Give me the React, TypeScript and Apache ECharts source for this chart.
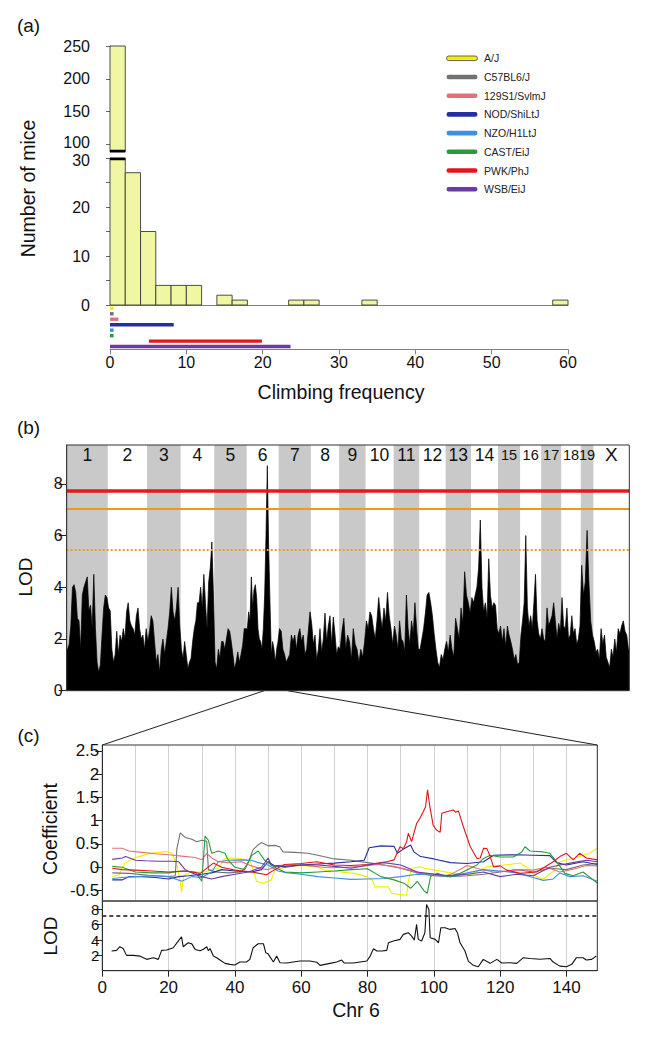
import React, { useEffect, useRef } from 'react';
import * as echarts from 'echarts';

const FONT = '"Liberation Sans", Arial, Helvetica, sans-serif';

// ---------- (a) histogram of climbing frequency ----------
const histBinStarts = [0, 2, 4, 6, 8, 10, 14, 16, 23.4, 25.4, 33, 58];
const histCounts = [250, 27, 15, 4, 4, 4, 2, 1, 1, 1, 1, 1];
const histBinWidth = 2;
const histUpperTicks = [100, 150, 200, 250];

const strains = ['A/J', 'C57BL6/J', '129S1/SvlmJ', 'NOD/ShiLtJ', 'NZO/H1LtJ', 'CAST/EiJ', 'PWK/PhJ', 'WSB/EiJ'];
const strainColors = ['#f0f000', '#727272', '#e2707a', '#23309e', '#3f8fde', '#2a9a3a', '#e3141a', '#6b3aa3'];
const strainFreqMin = [0, 0, 0, 0, 0, 0, 5.1, 0];
const strainFreqMax = [0, 0, 1.1, 8.35, 0, 0, 19.9, 23.65];

// ---------- (b) genome scan ----------
const chrNames = ['1', '2', '3', '4', '5', '6', '7', '8', '9', '10', '11', '12', '13', '14', '15', '16', '17', '18', '19', 'X'];
const chrLengths = [199, 190, 163, 163, 157, 155, 156, 137, 128, 136, 124, 128, 123, 131, 107, 102, 97, 95, 61, 174];
const lodChr1 = [1.6, 1.8, 2.5, 4.0, 4.1, 3.8, 2.8, 2.7, 1.6, 3.7, 4.0, 4.2, 4.4, 3.1, 3.3, 2.4, 4.5, 2.4, 1.1, 0.7, 1.0, 2.15, 3.2, 3.7, 3.6];
const lodChr2 = [3.2, 3.1, 1.6, 1.1, 1.4, 2.3, 1.4, 2.15, 1.9, 2.4, 2.0, 3.05, 3.4, 2.7, 2.5, 2.4, 2.15, 2.9, 3.2, 2.4, 2.0, 2.15, 1.6, 2.4];
const lodChr3 = [1.9, 2.3, 2.9, 2.7, 1.9, 1.1, 1.4, 0.7, 1.6, 2.0, 1.4, 1.9, 2.4, 3.05, 4.0, 3.05, 2.7, 3.2, 4.0, 2.5];
const lodChr4 = [1.6, 1.25, 1.9, 1.4, 0.85, 1.1, 1.25, 1.9, 2.4, 2.7, 3.4, 3.4, 4.0, 3.2, 4.5, 3.4, 2.4, 4.2, 4.75, 5.75, 3.7];
const lodChr5 = [1.1, 0.85, 1.6, 1.25, 1.9, 1.9, 1.6, 2.0, 2.4, 2.3, 1.9, 1.4, 0.85, 1.1, 1.5, 1.1, 1.4, 1.75, 2.4, 2.4];
const lodChr6 = [2.4, 3.05, 2.7, 4.4, 3.2, 3.9, 4.1, 3.6, 2.4, 2.0, 1.9, 1.6, 2.4, 3.7, 6.0, 8.7, 5.6, 3.4, 1.4, 1.9, 1.6, 1.1, 1.6, 1.9];
const lodChr7 = [2.4, 2.3, 1.6, 1.4, 1.1, 1.25, 1.4, 2.15, 1.9, 2.15, 1.6, 2.15, 2.4, 1.9, 2.15, 1.4, 1.6, 2.3, 3.05];
const lodChr8 = [2.6, 1.8, 2.15, 1.2, 1.6, 2.4, 1.5, 2.0, 3.0, 1.9, 2.5, 2.9, 1.8, 2.85, 2.2, 1.4, 1.7];
const lodChr9 = [1.6, 2.3, 2.8, 1.6, 2.15, 1.9, 1.2, 2.4, 1.8, 1.6, 1.1, 1.6, 1.3, 1.9];
const lodChr10 = [2.7, 2.4, 3.05, 2.9, 2.4, 2.0, 2.7, 3.6, 2.9, 2.4, 3.2, 2.7, 3.8, 2.9, 2.4, 1.8];
const lodChr11 = [2.5, 2.15, 1.6, 2.7, 2.0, 1.9, 1.5, 3.7, 2.4, 1.8, 2.7, 2.2, 3.4, 2.4, 1.6];
const lodChr12 = [1.6, 2.0, 2.4, 3.0, 3.7, 3.8, 3.4, 2.9, 2.2, 1.6, 1.1, 0.9, 1.4, 1.2, 1.6];
const lodChr13 = [1.9, 1.5, 2.15, 1.6, 1.3, 2.8, 2.4, 2.0, 3.2, 2.6, 4.6, 3.7, 3.4, 3.0];
const lodChr14 = [3.6, 3.4, 3.7, 4.0, 4.75, 6.6, 4.0, 3.05, 3.4, 2.8, 5.1, 3.7, 3.2, 3.4, 3.3, 2.4];
const lodChr15 = [2.2, 2.5, 1.9, 2.4, 1.7, 2.5, 2.15, 1.9, 1.6, 1.2, 1.4, 1.0, 1.1];
const lodChr16 = [2.15, 2.7, 3.4, 6.0, 3.2, 2.5, 2.9, 2.4, 3.4, 4.5, 2.7, 2.2, 2.0];
const lodChr17 = [2.4, 2.0, 1.9, 3.2, 2.5, 2.7, 2.9, 3.4, 2.7, 2.0, 2.6, 2.3];
const lodChr18 = [3.6, 2.5, 2.4, 3.2, 2.0, 2.15, 2.9, 2.2, 2.4, 1.8, 2.0, 2.5];
const lodChr19 = [4.85, 3.7, 4.2, 6.2, 4.2, 2.7, 2.15];
const lodChrX = [1.9, 1.5, 1.6, 1.2, 2.4, 1.8, 2.15, 1.3, 1.1, 0.9, 1.6, 1.3, 2.0, 1.5, 2.4, 2.2, 2.5, 2.7, 2.3, 2.15, 1.6];
const genomeThresholds = [7.73, 7.03, 5.45];
const genomeLodTicks = [0, 2, 4, 6, 8];

// ---------- (c) chromosome 6 ----------
const coefAJ = [[3, -0.2], [5, -0.16], [6.8, 0.09], [9.3, 0.19], [12, 0.25], [14.4, 0.3], [17, 0.32], [19.4, 0.34], [21, 0.3], [22.5, 0.05], [23.5, -0.3], [23.9, -0.54], [24.5, -0.2], [26, -0.12], [28, -0.1], [31, -0.1], [33, -0.05], [35, -0.02], [37, 0.19], [40, 0.2], [42, 0.18], [44.5, 0.14], [45.5, -0.05], [46.5, -0.3], [48.5, -0.34], [51, -0.27], [52, -0.06], [55.6, 0.01], [60, 0.04], [65, 0.0], [67, -0.06], [70.7, -0.09], [75.7, -0.13], [79.8, -0.2], [81.3, -0.27], [82.3, -0.42], [86.3, -0.42], [87.3, -0.56], [91.8, -0.6], [92.3, -0.3], [93.3, -0.02], [95.8, 0.01], [97.3, -0.02], [100.4, -0.06], [106, -0.13], [111, -0.16], [116, 0.01], [121, 0.05], [126, 0.09], [128, 0.0], [131, -0.2], [133, -0.25], [136, -0.09], [138, 0.12], [144, 0.23], [147, 0.3], [149.3, 0.41]];
const coefC57 = [[3, -0.12], [8, -0.13], [14, -0.17], [20, -0.2], [22, -0.18], [22.5, 0.4], [23.5, 0.74], [25, 0.64], [27, 0.6], [28.5, 0.55], [30, 0.58], [31.5, 0.56], [32, -0.05], [34, -0.1], [38, -0.12], [42, -0.1], [44, 0.1], [45.5, 0.38], [47, 0.48], [48, 0.53], [50, 0.46], [52, 0.47], [53.5, 0.44], [54.5, 0.33], [58, 0.32], [62, 0.3], [65, 0.26], [70, 0.18], [75, 0.15], [80, 0.1], [85, 0.05], [90, -0.02], [95, -0.12], [100, -0.18], [105, -0.2], [110, -0.18], [115, -0.15], [120, -0.1], [125, -0.05], [130, -0.1], [135, -0.02], [140, -0.05], [145, 0.05], [149.3, 0.08]];
const coef129 = [[3, 0.41], [6, 0.41], [8, 0.35], [12, 0.32], [16, 0.29], [20, 0.27], [24, 0.24], [28, 0.21], [30, 0.16], [31.5, 0.3], [33, 0.2], [35, 0.12], [38, 0.1], [42, 0.12], [45, 0.03], [48, -0.03], [50, -0.05], [53, 0.04], [58, 0.06], [63, 0.03], [68, -0.01], [73, 0.0], [78, 0.02], [83, 0.06], [88, 0.02], [92, -0.05], [96, -0.12], [100, -0.14], [103, -0.2], [106, -0.12], [110, 0.04], [114, -0.04], [118, -0.1], [122, -0.08], [126, -0.05], [130, -0.06], [134, 0.0], [138, -0.1], [142, -0.04], [146, 0.04], [149.3, 0.03]];
const coefNOD = [[3, -0.27], [6, -0.27], [8, -0.2], [12, -0.2], [16, -0.22], [20, -0.25], [23, -0.2], [26, -0.18], [30, -0.15], [33, -0.12], [36, -0.05], [40, -0.08], [45, -0.1], [48, -0.05], [50, 0.12], [52, 0.03], [55, 0.02], [60, 0.05], [65, 0.07], [70, 0.09], [75, 0.12], [79, 0.15], [80.5, 0.42], [84, 0.46], [88, 0.45], [89, 0.3], [91, 0.4], [93, 0.48], [94, 0.33], [96, 0.23], [100, 0.18], [105, 0.1], [110, 0.08], [115, 0.12], [118, 0.26], [125, 0.27], [130, 0.26], [135, 0.25], [137, 0.1], [140, 0.05], [145, 0.12], [149.3, 0.06]];
const coefNZO = [[3, -0.24], [6, -0.22], [10, -0.2], [15, -0.18], [20, -0.2], [24, -0.3], [27, -0.2], [30, -0.22], [33, -0.1], [35, 0.12], [38, 0.15], [42, 0.16], [45, 0.15], [47, 0.1], [50, 0.05], [53, -0.08], [56, -0.12], [60, -0.15], [65, -0.2], [70, -0.23], [75, -0.26], [80, -0.25], [85, -0.24], [90, -0.2], [95, -0.15], [100, -0.17], [105, -0.2], [110, -0.12], [115, -0.05], [120, -0.08], [125, -0.12], [130, -0.22], [133, -0.28], [136, -0.25], [138, -0.12], [141, -0.2], [145, -0.18], [149.3, -0.3]];
const coefCAST = [[3, 0.02], [6, 0.0], [10, -0.1], [15, -0.12], [20, -0.12], [24, -0.08], [28, -0.1], [30, -0.3], [31, 0.67], [32, 0.58], [33, 0.3], [35, 0.35], [37, 0.3], [38, 0.15], [40, 0.0], [43, -0.05], [45, 0.25], [47, 0.35], [49, 0.15], [52, 0.0], [55, -0.1], [60, -0.12], [65, -0.1], [70, -0.08], [75, -0.05], [80, -0.03], [84, -0.2], [88, -0.27], [91, -0.34], [93, -0.45], [95, -0.3], [97, -0.5], [98, -0.56], [99, -0.2], [101, -0.13], [104, -0.2], [108, -0.13], [111, -0.02], [113, 0.05], [115, 0.19], [117, 0.26], [120, 0.22], [124, 0.22], [126.5, 0.33], [127.5, 0.44], [129, 0.35], [133, 0.33], [135, 0.3], [137.5, 0.08], [139.5, -0.13], [142, -0.18], [145, -0.1], [149.3, -0.34]];
const coefPWK = [[3, -0.02], [6, -0.05], [10, -0.06], [15, -0.08], [20, -0.1], [25, -0.08], [29.5, -0.13], [33.5, 0.09], [36, 0.0], [40, -0.06], [45, -0.1], [49.5, -0.16], [52, -0.05], [55, 0.06], [60, 0.08], [64.7, 0.12], [70, 0.05], [75, 0.04], [80, 0.06], [85.8, 0.12], [88, 0.16], [89.8, 0.44], [90.8, 0.4], [91.8, 0.55], [92.3, 0.73], [93.3, 0.55], [94.8, 0.94], [95.8, 1.05], [96.8, 1.19], [97.5, 1.3], [98.1, 1.66], [98.8, 1.3], [99.8, 0.9], [100.8, 0.8], [101.9, 0.75], [102.4, 1.16], [103.9, 1.19], [105.9, 1.23], [106.6, 1.18], [107.4, 1.21], [108.9, 0.87], [111, 0.44], [113, 0.19], [114, 0.2], [115, 0.41], [116, 0.4], [117, 0.23], [118, 0.01], [120, 0.03], [122, -0.06], [126, -0.13], [131, -0.1], [136, 0.12], [138, 0.23], [140, 0.3], [142, 0.16], [144, 0.3], [146, 0.2], [149.3, 0.16]];
const coefWSB = [[3, 0.17], [6, 0.2], [7, 0.23], [10, 0.15], [13, 0.14], [17, 0.13], [21, 0.13], [23, 0.12], [25, -0.05], [28, -0.15], [30, -0.2], [33, -0.25], [36, -0.2], [40, -0.15], [44, -0.1], [48, 0.0], [50, 0.2], [51, 0.05], [55, 0.0], [60, 0.05], [65, 0.05], [70, 0.02], [75, -0.02], [80, 0.05], [85, 0.1], [90, 0.05], [95, -0.1], [100, -0.15], [105, -0.18], [110, -0.15], [115, -0.1], [120, -0.2], [125, -0.15], [130, -0.18], [135, 0.0], [138, 0.05], [142, 0.1], [146, 0.15], [149.3, 0.12]];
const chr6Lod = [[2.8, 2.57], [4.3, 2.65], [5.3, 3.13], [6.3, 2.9], [7.3, 2.0], [9.4, 2.0], [11.4, 1.9], [13.4, 1.48], [15.4, 1.7], [16.9, 1.48], [17.9, 2.65], [19.4, 2.7], [21.4, 3.0], [22.9, 3.87], [23.9, 4.43], [24.4, 3.13], [25.9, 3.65], [27, 3.5], [28, 2.78], [29.5, 2.6], [30.5, 2.8], [31.5, 3.13], [32, 2.6], [32.5, 2.9], [33.5, 1.91], [34.5, 1.7], [35.5, 1.39], [37, 0.96], [38.5, 0.83], [40, 0.74], [41.5, 1.13], [43.5, 1.13], [44.5, 1.48], [45.5, 3.0], [47, 3.52], [48.6, 3.52], [49.3, 2.35], [50, 2.2], [51.6, 1.13], [52.6, 1.91], [53.6, 1.04], [55.6, 1.0], [57.6, 1.13], [59.6, 1.26], [62.6, 1.26], [64.7, 1.1], [65.7, 0.7], [67.2, 0.83], [68.7, 0.96], [70.7, 1.13], [72.2, 1.39], [73, 1.0], [75.7, 1.0], [79.8, 1.26], [80.8, 1.91], [81.8, 2.87], [82.8, 2.57], [84.3, 2.57], [85.8, 2.65], [86.3, 3.65], [87.8, 3.87], [89.8, 4.09], [90.8, 4.74], [92.3, 4.96], [93.3, 4.52], [94.1, 4.0], [94.8, 6.04], [95.3, 4.09], [96.3, 3.87], [97.3, 4.96], [97.8, 8.65], [98.5, 8.0], [98.9, 4.3], [100.4, 4.09], [101.4, 3.65], [102.1, 5.6], [103.4, 5.6], [104.9, 5.39], [106.4, 5.5], [107.1, 4.96], [107.9, 3.65], [109.4, 2.57], [110.4, 1.26], [111.9, 0.7], [113.4, 0.52], [114.9, 1.48], [116, 1.2], [117, 0.96], [119, 1.48], [120.5, 1.0], [123, 1.04], [125, 0.96], [127, 1.7], [129, 1.6], [132, 1.5], [135, 1.6], [136, 1.13], [138, 0.6], [140, 0.52], [141.6, 0.83], [143, 1.7], [145, 1.7], [146, 1.39], [147.6, 1.48], [149, 1.91]];
const chr6Threshold = 7.2;
const coefTicks = [-0.5, 0, 0.5, 1, 1.5, 2, 2.5];
const chr6PosTicks = [0, 20, 40, 60, 80, 100, 120, 140];
const chr6LodTicks = [2, 4, 6, 8];

const coefSeries = [coefAJ, coefC57, coef129, coefNOD, coefNZO, coefCAST, coefPWK, coefWSB];
const lodByChr = [lodChr1, lodChr2, lodChr3, lodChr4, lodChr5, lodChr6, lodChr7, lodChr8, lodChr9, lodChr10, lodChr11, lodChr12, lodChr13, lodChr14, lodChr15, lodChr16, lodChr17, lodChr18, lodChr19, lodChrX];

function buildOption() {
  const chrStarts: number[] = [];
  let acc = 0;
  chrLengths.forEach((l) => { chrStarts.push(acc); acc += l; });
  const genomeTotal = acc;
  const genomePts: number[][] = [];
  lodByChr.forEach((vals, c) => {
    vals.forEach((v, i) => genomePts.push([chrStarts[c] + ((i + 0.5) / vals.length) * chrLengths[c], v]));
  });
  genomePts.unshift([0, genomePts[0][1]]);
  genomePts.push([genomeTotal, genomePts[genomePts.length - 1][1]]);

  const histData = histBinStarts.map((s, i) => [s, s + histBinWidth, histCounts[i]]);
  const histRender = (params: any, api: any) => {
    const x0 = api.value(0), x1 = api.value(1), c = api.value(2);
    const cs = params.coordSys;
    const p0 = api.coord([x0, c]);
    const p1 = api.coord([x1, 0]);
    if (p0[1] >= cs.y + cs.height) return null;
    const r = echarts.graphic.clipRectByRect(
      { x: p0[0], y: p0[1], width: p1[0] - p0[0], height: p1[1] - p0[1] },
      { x: cs.x, y: cs.y, width: cs.width, height: cs.height }
    );
    if (!r) return null;
    const children: any[] = [{ type: 'rect', shape: r, style: { fill: '#f1f6a2', stroke: '#3a3a3a', lineWidth: 0.9 } }];
    if (p0[1] < cs.y - 0.5) {
      children.push({ type: 'line', shape: { x1: r.x, y1: cs.y + 1, x2: r.x + r.width, y2: cs.y + 1 }, style: { stroke: '#000', lineWidth: 2.5 } });
    }
    if (p1[1] > cs.y + cs.height + 0.5) {
      children.push({ type: 'line', shape: { x1: r.x, y1: cs.y + cs.height - 1, x2: r.x + r.width, y2: cs.y + cs.height - 1 }, style: { stroke: '#000', lineWidth: 2.5 } });
    }
    return { type: 'group', children };
  };

  const strainData = strains.map((s, i) => [strainFreqMin[i], strainFreqMax[i], i]);
  const strainRender = (params: any, api: any) => {
    const i = api.value(2);
    const p0 = api.coord([api.value(0), i]);
    const p1 = api.coord([api.value(1), i]);
    return { type: 'rect', shape: { x: p0[0], y: p0[1] - 1.7, width: Math.max(p1[0] - p0[0], 3.6), height: 3.4 }, style: { fill: strainColors[i] } };
  };

  const bandData = chrLengths.map((l, i) => [chrStarts[i], chrStarts[i] + l, i]).filter((d) => d[2] % 2 === 0);
  const bandRender = (params: any, api: any) => {
    const p0 = api.coord([api.value(0), 9.5]);
    const p1 = api.coord([api.value(1), 0]);
    return { type: 'rect', shape: { x: p0[0], y: p0[1], width: p1[0] - p0[0], height: p1[1] - p0[1] }, style: { fill: '#c9c9c9' } };
  };
  const labelData = chrLengths.map((l, i) => [chrStarts[i] + l / 2, i]);
  const labelRender = (params: any, api: any) => {
    const i = api.value(1);
    const p = api.coord([api.value(0), 9.12]);
    const name = chrNames[i];
    const fs = name === 'X' ? 19 : i >= 14 ? 14.5 : 17.5;
    return { type: 'text', x: p[0], y: p[1], style: { text: name, fontSize: fs, fontFamily: FONT, fill: '#111', align: 'center', verticalAlign: 'middle' } };
  };

  const tickLabel = { color: '#111', fontFamily: FONT, hideOverlap: false };
  const axisLn = (c: string) => ({ show: true, lineStyle: { color: c, width: 1 } });
  const frame = { show: true, borderColor: '#333', borderWidth: 1, backgroundColor: 'transparent', z: 10 };

  const graphics: any[] = [];
  const addText = (text: string, x: number, y: number, fs: number, rot = 0) =>
    graphics.push({ type: 'text', x, y, rotation: rot, style: { text, fontSize: fs, fontFamily: FONT, fill: '#111', align: 'center', verticalAlign: 'middle' } });
  addText('(a)', 28.5, 25.5, 19);
  addText('(b)', 28.5, 427.5, 19);
  addText('(c)', 28.5, 735, 19);
  addText('Number of mice', 27.5, 188.5, 19.5, Math.PI / 2);
  addText('Climbing frequency', 341, 392, 19.5);
  addText('LOD', 25.5, 577, 19, Math.PI / 2);
  addText('Coefficient', 49.5, 829, 19.5, Math.PI / 2);
  addText('LOD', 50.5, 936, 19, Math.PI / 2);
  addText('Chr 6', 356, 1010, 19.5);
  strains.forEach((s, i) => {
    const cy = 58.3 + i * 18.7;
    graphics.push({ type: 'rect', shape: { x: 446.5, y: cy - 2.3, width: 31, height: 4.6, r: 2.3 }, style: { fill: strainColors[i], stroke: i === 0 ? '#555' : null, lineWidth: i === 0 ? 0.9 : 0 } });
    graphics.push({ type: 'text', x: 484, y: cy, style: { text: s, fontSize: 10.5, fontFamily: FONT, fill: '#222', align: 'left', verticalAlign: 'middle' } });
  });
  graphics.push({ type: 'line', shape: { x1: 264.3, y1: 690.7, x2: 102.3, y2: 745 }, style: { stroke: '#222', lineWidth: 1 } });
  graphics.push({ type: 'line', shape: { x1: 287.5, y1: 690.7, x2: 597.3, y2: 745 }, style: { stroke: '#222', lineWidth: 1 } });

  const histRich = {
    up: { fontSize: 16, fontFamily: FONT, color: '#111', padding: [0, 0, 4, 0] },
    dn: { fontSize: 16, fontFamily: FONT, color: '#111', padding: [4, 0, 0, 0] },
  };

  return {
    animation: false,
    textStyle: { fontFamily: FONT },
    grid: [
      { left: 110, top: 46, width: 458, height: 106, outerBoundsMode: 'none' },
      { left: 110, top: 158, width: 458, height: 147, outerBoundsMode: 'none' },
      { left: 110, top: 305.6, width: 458, height: 43.7, outerBoundsMode: 'none' },
      { left: 66.7, top: 445, width: 562.6, height: 245.7, outerBoundsMode: 'none', ...frame },
      { left: 102.3, top: 745, width: 495, height: 156, outerBoundsMode: 'none', ...frame },
      { left: 102.3, top: 901, width: 495, height: 69.7, outerBoundsMode: 'none', ...frame },
    ],
    xAxis: [
      { gridIndex: 0, type: 'value', min: 0, max: 60, show: false },
      { gridIndex: 1, type: 'value', min: 0, max: 60, axisLine: axisLn('#808080'), axisTick: { show: false }, axisLabel: { show: false }, splitLine: { show: false } },
      { gridIndex: 2, type: 'value', min: 0, max: 60, interval: 10, axisLine: axisLn('#808080'), axisTick: { show: true, length: 5, lineStyle: { color: '#808080' } }, axisLabel: { ...tickLabel, fontSize: 16, margin: 5 }, splitLine: { show: false } },
      { gridIndex: 3, type: 'value', min: 0, max: genomeTotal, show: false },
      { gridIndex: 4, type: 'value', min: 0, max: 149.3, interval: 10, axisLine: { show: false }, axisTick: { show: false }, axisLabel: { show: false }, splitLine: { show: true, lineStyle: { color: '#d2d2d2', width: 1 } } },
      { gridIndex: 5, type: 'value', min: 0, max: 149.3, interval: 10, axisLine: axisLn('#222'), axisTick: { show: true, length: 6, customValues: chr6PosTicks, lineStyle: { color: '#222' } }, axisLabel: { ...tickLabel, fontSize: 17, margin: 8, customValues: chr6PosTicks }, splitLine: { show: true, lineStyle: { color: '#d2d2d2', width: 1 } } },
    ],
    yAxis: [
      { gridIndex: 0, type: 'value', min: 88.3, max: 250, offset: 17, axisLine: axisLn('#666'), axisTick: { show: true, length: 4, customValues: histUpperTicks, lineStyle: { color: '#666' } }, axisLabel: { ...tickLabel, fontSize: 16, margin: 3, customValues: histUpperTicks, formatter: (v: number) => (v === 100 ? '{up|100}' : String(v)), rich: histRich }, splitLine: { show: false } },
      { gridIndex: 1, type: 'value', min: 0, max: 30, interval: 5, offset: 17, axisLine: axisLn('#666'), axisTick: { show: true, length: 4, lineStyle: { color: '#666' } }, axisLabel: { ...tickLabel, fontSize: 16, margin: 3, formatter: (v: number) => (v === 30 ? '{dn|30}' : v % 10 === 0 ? String(v) : ''), rich: histRich }, splitLine: { show: false } },
      { gridIndex: 2, type: 'category', data: strains, inverse: true, show: false },
      { gridIndex: 3, type: 'value', min: 0, max: 9.5, interval: 2, axisLine: axisLn('#222'), axisTick: { show: true, length: 8, customValues: genomeLodTicks, lineStyle: { color: '#222' } }, axisLabel: { ...tickLabel, fontSize: 16, margin: 4, customValues: genomeLodTicks }, splitLine: { show: false } },
      { gridIndex: 4, type: 'value', min: -0.723, max: 2.624, axisLine: axisLn('#222'), axisTick: { show: true, length: 7, customValues: coefTicks, lineStyle: { color: '#222' } }, axisLabel: { ...tickLabel, fontSize: 17, margin: 3, customValues: coefTicks }, splitLine: { show: false } },
      { gridIndex: 5, type: 'value', min: 0, max: 9.1, axisLine: axisLn('#222'), axisTick: { show: true, length: 7, customValues: chr6LodTicks, lineStyle: { color: '#222' } }, axisLabel: { ...tickLabel, fontSize: 15, lineHeight: 13, margin: 3, customValues: chr6LodTicks }, splitLine: { show: false } },
    ],
    series: [
      { type: 'custom', xAxisIndex: 0, yAxisIndex: 0, data: histData, renderItem: histRender, z: 2 },
      { type: 'custom', xAxisIndex: 1, yAxisIndex: 1, data: histData, renderItem: histRender, z: 2 },
      { type: 'custom', xAxisIndex: 2, yAxisIndex: 2, data: strainData, renderItem: strainRender, z: 2 },
      { type: 'custom', xAxisIndex: 3, yAxisIndex: 3, data: bandData, renderItem: bandRender, z: 1 },
      {
        type: 'line', xAxisIndex: 3, yAxisIndex: 3, data: genomePts, showSymbol: false, symbol: 'none', z: 3,
        lineStyle: { color: '#000', width: 0.7 }, areaStyle: { color: '#000', opacity: 1 },
        markLine: {
          silent: true, symbol: ['none', 'none'], label: { show: false },
          data: [
            { yAxis: genomeThresholds[0], lineStyle: { color: '#e31a1c', width: 3.5, type: 'solid' } },
            { yAxis: genomeThresholds[1], lineStyle: { color: '#f29522', width: 2, type: 'solid' } },
            { yAxis: genomeThresholds[2], lineStyle: { color: '#e3a12a', width: 2, type: [2, 2] } },
          ],
        },
      },
      { type: 'custom', xAxisIndex: 3, yAxisIndex: 3, data: labelData, renderItem: labelRender, z: 4 },
      ...coefSeries.map((d, i) => ({
        type: 'line', name: strains[i], xAxisIndex: 4, yAxisIndex: 4, data: d, showSymbol: false, symbol: 'none', z: 3,
        lineStyle: { color: strainColors[i], width: 1.1 }, itemStyle: { color: strainColors[i] },
      })),
      {
        type: 'line', xAxisIndex: 5, yAxisIndex: 5, data: chr6Lod, showSymbol: false, symbol: 'none', z: 3,
        lineStyle: { color: '#111', width: 1.1 },
        markLine: { silent: true, symbol: ['none', 'none'], label: { show: false }, data: [{ yAxis: chr6Threshold, lineStyle: { color: '#111', width: 1.5, type: [4, 3] } }] },
      },
    ],
    graphic: graphics,
  };
}

export default function App() {
  const ref = useRef<HTMLDivElement>(null);
  useEffect(() => {
    document.body.style.margin = '0';
    const chart = echarts.init(ref.current as HTMLDivElement, null, { renderer: 'svg' });
    chart.setOption(buildOption() as any);
    return () => chart.dispose();
  }, []);
  return <div ref={ref} style={{ width: 651, height: 1037 }} />;
}
